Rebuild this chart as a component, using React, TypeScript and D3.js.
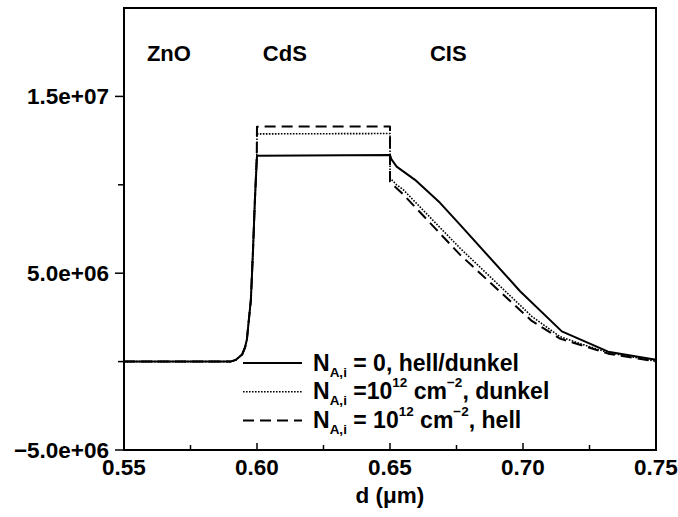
import { useEffect, useRef } from 'react';
import * as d3 from 'd3';

// Schichtdicke d in µm
const dSolid = [0.55, 0.59, 0.5921, 0.5944, 0.5955, 0.5962, 0.5977, 0.5985, 0.5992, 0.6, 0.65, 0.6505, 0.6525, 0.6594, 0.6688, 0.6763, 0.6989, 0.7146, 0.732, 0.75];
const vSolid = [0, 0, 0.1e6, 0.4e6, 0.8e6, 1.25e6, 3.5e6, 6.3e6, 9.1e6, 11.64e6, 11.68e6, 11.45e6, 11.03e6, 10.28e6, 8.98e6, 7.75e6, 3.98e6, 1.71e6, 0.56e6, 0.1e6];

const dDotted = [0.55, 0.59, 0.5921, 0.5944, 0.5955, 0.5962, 0.5977, 0.5985, 0.5992, 0.5999, 0.6, 0.65, 0.65, 0.6525, 0.655, 0.6763, 0.7033, 0.7139, 0.7226, 0.732, 0.75];
const vDotted = [0, 0, 0.1e6, 0.4e6, 0.8e6, 1.25e6, 3.5e6, 6.3e6, 9.1e6, 11.5e6, 12.88e6, 12.9e6, 10.38e6, 10.0e6, 9.72e6, 6.42e6, 2.56e6, 1.41e6, 0.96e6, 0.51e6, 0.02e6];

const dDashed = [0.55, 0.59, 0.5921, 0.5944, 0.5955, 0.5962, 0.5977, 0.5985, 0.5992, 0.5999, 0.6, 0.65, 0.65, 0.6525, 0.655, 0.6763, 0.7033, 0.7139, 0.7226, 0.732, 0.75];
const vDashed = [0, 0, 0.1e6, 0.4e6, 0.8e6, 1.25e6, 3.5e6, 6.3e6, 9.1e6, 11.5e6, 13.29e6, 13.3e6, 10.19e6, 9.8e6, 9.45e6, 6.05e6, 2.3e6, 1.3e6, 0.9e6, 0.45e6, 0];

const xTicks = [0.55, 0.6, 0.65, 0.7, 0.75];
const xMinorTicks = [0.575, 0.625, 0.675, 0.725];
const yTicks = [-5e6, 5e6, 1.5e7];
const yTickLabels = ['\u22125.0e+06', '5.0e+06', '1.5e+07'];
const yMinorTicks = [0, 1e7];

const regions = [
  { name: 'ZnO', d: 0.5586 },
  { name: 'CdS', d: 0.6022 },
  { name: 'CIS', d: 0.665 },
];

const FONT = '"Liberation Sans", Arial, Helvetica, sans-serif';

export default function App() {
  const ref = useRef<SVGSVGElement>(null);

  useEffect(() => {
    const width = 678, height = 517;
    const margin = { top: 8, right: 22, bottom: 67, left: 124 };
    const svg = d3.select(ref.current);
    svg.selectAll('*').remove();

    const x = d3.scaleLinear().domain([0.55, 0.75]).range([margin.left, width - margin.right]);
    const y = d3.scaleLinear().domain([-5e6, 2e7]).range([height - margin.bottom, margin.top]);

    const line = d3.line<[number, number]>().x(d => x(d[0])).y(d => y(d[1]));

    // Kurven
    const series = [
      { d: dSolid, v: vSolid, dash: null, w: 2 },
      { d: dDotted, v: vDotted, dash: '1.6,1.4', w: 1.6 },
      { d: dDashed, v: vDashed, dash: '11,6', w: 2 },
    ];
    series.forEach(s => {
      const pts = s.d.map((d, i) => [d, s.v[i]] as [number, number]);
      svg.append('path')
        .attr('d', line(pts))
        .attr('fill', 'none')
        .attr('stroke', '#000')
        .attr('stroke-width', s.w)
        .attr('stroke-linejoin', 'round')
        .attr('stroke-dasharray', s.dash);
    });

    // Rahmen
    const [x0, x1] = x.range();
    const [y0, y1] = y.range();
    svg.append('rect')
      .attr('x', x0).attr('y', y1)
      .attr('width', x1 - x0).attr('height', y0 - y1)
      .attr('fill', 'none').attr('stroke', '#000').attr('stroke-width', 2);

    // X-Achse
    svg.selectAll('.xt').data(xTicks).enter().append('line')
      .attr('x1', d => x(d)).attr('x2', d => x(d))
      .attr('y1', y0).attr('y2', y0 - 7)
      .attr('stroke', '#000').attr('stroke-width', 1.5);
    svg.selectAll('.xm').data(xMinorTicks).enter().append('line')
      .attr('x1', d => x(d)).attr('x2', d => x(d))
      .attr('y1', y0).attr('y2', y0 - 5)
      .attr('stroke', '#000').attr('stroke-width', 1.5);
    svg.selectAll('.xl').data(xTicks).enter().append('text')
      .attr('x', d => x(d)).attr('y', y0 + 25)
      .attr('text-anchor', 'middle')
      .attr('font-family', FONT).attr('font-weight', 'bold').attr('font-size', 22.5)
      .text(d => d.toFixed(2));
    svg.append('text')
      .attr('x', (x0 + x1) / 2).attr('y', 503)
      .attr('text-anchor', 'middle')
      .attr('font-family', FONT).attr('font-weight', 'bold').attr('font-size', 22.5)
      .text('d (\u03bcm)');

    // Y-Achse
    svg.selectAll('.yt').data(yTicks).enter().append('line')
      .attr('x1', x0 - 9).attr('x2', x0)
      .attr('y1', d => y(d)).attr('y2', d => y(d))
      .attr('stroke', '#000').attr('stroke-width', 1.5);
    svg.selectAll('.ym').data(yMinorTicks).enter().append('line')
      .attr('x1', x0 - 6).attr('x2', x0)
      .attr('y1', d => y(d)).attr('y2', d => y(d))
      .attr('stroke', '#000').attr('stroke-width', 1.5);
    svg.selectAll('.yl').data(yTicks).enter().append('text')
      .attr('x', x0 - 15).attr('y', d => y(d) + 8)
      .attr('text-anchor', 'end')
      .attr('font-family', FONT).attr('font-weight', 'bold').attr('font-size', 22.5)
      .text((d, i) => yTickLabels[i]);

    // Schichtbezeichnungen
    svg.selectAll('.rg').data(regions).enter().append('text')
      .attr('x', d => x(d.d)).attr('y', 61)
      .attr('font-family', FONT).attr('font-weight', 'bold').attr('font-size', 22)
      .text(d => d.name);

    // Legende
    const legend = [
      { dash: null, w: 2, parts: [['N', 0], ['A,i', 1], [' = 0, hell/dunkel', 0]] },
      { dash: '1.6,1.4', w: 1.6, parts: [['N', 0], ['A,i', 1], [' =10', 0], ['12', 2], [' cm', 0], ['\u22122', 2], [', dunkel', 0]] },
      { dash: '11,6', w: 2, parts: [['N', 0], ['A,i', 1], [' = 10', 0], ['12', 2], [' cm', 0], ['\u22122', 2], [', hell', 0]] },
    ];
    const lx = 243, ly = 363, step = 28.7;
    legend.forEach((l, i) => {
      const yy = ly + i * step;
      svg.append('line')
        .attr('x1', lx).attr('x2', lx + 59)
        .attr('y1', yy).attr('y2', yy)
        .attr('stroke', '#000').attr('stroke-width', l.w)
        .attr('stroke-dasharray', l.dash);
      const t = svg.append('text')
        .attr('x', lx + 70).attr('y', yy + 7.5)
        .attr('font-family', FONT).attr('font-weight', 'bold').attr('font-size', 23)
        .attr('xml:space', 'preserve');
      let shift = 0;
      l.parts.forEach(([s, kind]) => {
        const target = kind === 1 ? 6 : kind === 2 ? -12 : 0;
        t.append('tspan')
          .attr('dy', target - shift)
          .attr('font-size', kind === 0 ? 23 : 13.5)
          .text(s as string);
        shift = target;
      });
    });
  }, []);

  return (
    <svg ref={ref} width={678} height={517}
      style={{ position: 'absolute', left: 0, top: 0, background: '#fff' }} />
  );
}
